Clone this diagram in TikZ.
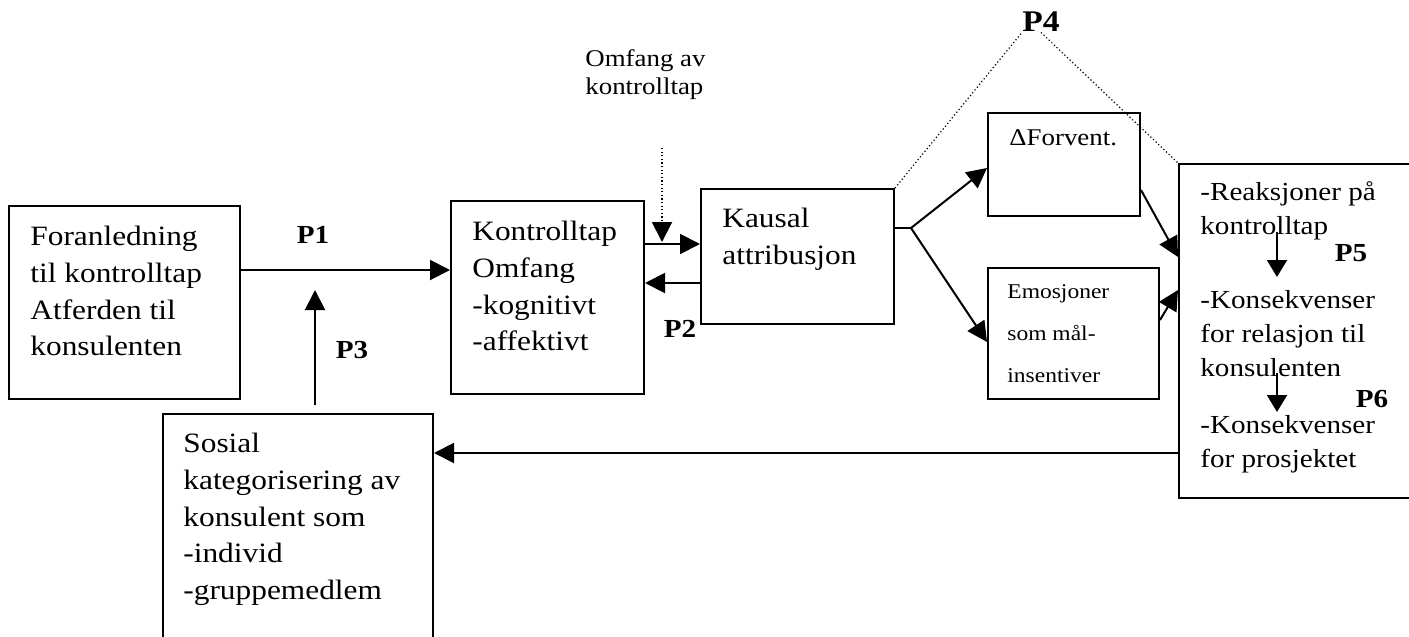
\documentclass[tikz,border=0pt]{standalone}
\usepackage{fontspec}
\setmainfont{Liberation Serif}[FakeStretch=1.12]
\usetikzlibrary{arrows.meta,calc}

\begin{document}
\begin{tikzpicture}[
  x=0.5pt,y=-0.5pt,
  boks/.style={rectangle,draw,line width=1pt,inner sep=0pt,anchor=north west},
  tekst/.style={inner sep=0pt,anchor=north west,align=left,
    font=\fontsize{14}{18.35}\selectfont},
  ptekst/.style={inner sep=0pt,font=\fontsize{13}{15}\selectfont\bfseries},
  arrow/.style={-{Triangle[length=10pt,width=10pt]},line width=1pt},
  smallarrow/.style={-{Triangle[length=8.5pt,width=10pt]},line width=1pt},
  prikk/.style={line width=0.6pt,dash pattern=on 0.6pt off 1.2pt}
]
\useasboundingbox (0,0) rectangle (1409,637);
\clip (0,0) rectangle (1409,637);

% ── Bokser ───────────────────────────────────────────────────────────────────
\node[boks,minimum width=115.5pt,minimum height=96.5pt] (foran)    at (8,205)    {};
\node[boks,minimum width=96.5pt, minimum height=96.5pt] (kontroll) at (450,200)  {};
\node[boks,minimum width=96.5pt, minimum height=67.5pt] (kausal)   at (700,188)  {};
\node[boks,minimum width=76pt,   minimum height=51.5pt] (forvent)  at (987,112)  {};
\node[boks,minimum width=85.5pt, minimum height=65.5pt] (emosjon)  at (987,267)  {};
\node[boks,minimum width=125pt,  minimum height=167pt]  (reaksjon) at (1178,163) {};
\node[boks,minimum width=135pt,  minimum height=125pt]  (sosial)   at (162,413)  {};

% ── Tekst i boksene ──────────────────────────────────────────────────────────
\node[tekst] (forantxt) at (30,226)
  {Foranledning\\til kontrolltap\\Atferden til\\konsulenten};
\node[tekst] (kontrolltxt) at (472,221)
  {Kontrolltap\\Omfang\\-kognitivt\\-affektivt};
\node[tekst] (kausaltxt) at (722,208) {Kausal\\attribusjon};
\node[tekst,font=\fontsize{12}{14}\selectfont] (forventtxt) at (1009,129) {ΔForvent.};
\node[tekst,font=\fontsize{10.5}{21}\selectfont] (emosjontxt) at (1007,284)
  {Emosjoner\\som mål-\\insentiver};
\node[tekst,font=\fontsize{13}{17}\selectfont] (reak1) at (1200,181)
  {-Reaksjoner på\\kontrolltap};
\node[tekst,font=\fontsize{13}{17}\selectfont] (reak2) at (1200,290)
  {-Konsekvenser\\for relasjon til\\konsulenten};
\node[tekst,font=\fontsize{13}{17}\selectfont] (reak3) at (1200,415)
  {-Konsekvenser\\for prosjektet};
\node[tekst] (sosialtxt) at (183,433)
  {Sosial\\kategorisering av\\konsulent som\\-individ\\-gruppemedlem};
\node[tekst,font=\fontsize{12}{14}\selectfont] (omfang) at (585,49)
  {Omfang av\\kontrolltap};

% ── P-etiketter ──────────────────────────────────────────────────────────────
\node[ptekst] (p1) at (313,235) {P1};
\node[ptekst] (p2) at (680,329) {P2};
\node[ptekst] (p3) at (352,350) {P3};
\node[ptekst,font=\fontsize{15}{17}\selectfont\bfseries,anchor=base] (p4) at (1041,32) {P4};
\node[ptekst] (p5) at (1351,253) {P5};
\node[ptekst] (p6) at (1372,399) {P6};

% ── Hjelpepunkter (høyder og x for pilene) ───────────────────────────────────
\coordinate (yP1)    at (0,270);
\coordinate (yBC)    at (0,244);
\coordinate (yCB)    at (0,283);
\coordinate (gaffel) at (911,228);
\coordinate (yD)     at (0,168);
\coordinate (yE)     at (0,342);
\coordinate (yDut)   at (0,190);
\coordinate (yDinn)  at (0,257);
\coordinate (yEut)   at (0,320);
\coordinate (yEinn)  at (0,290);
\coordinate (ySos)   at (0,453);
\coordinate (xP3)    at (315,290);
\coordinate (omfpil) at (662,148);
\coordinate (p5fra)  at (1277,232);
\coordinate (p5til)  at (1277,277);
\coordinate (p6fra)  at (1277,373);
\coordinate (p6til)  at (1277,412);

% ── Piler ────────────────────────────────────────────────────────────────────
\draw[arrow](foran.east |- yP1)--(kontroll.west |- yP1);
\draw[arrow](kontroll.east |- yBC)--(kausal.west |- yBC);
\draw[arrow](kausal.west |- yCB)--(kontroll.east |- yCB);
\draw[arrow,prikk,line width=1pt](omfpil)--([yshift=1pt]omfpil |- yBC);
\draw[line width=1pt](kausal.east |- gaffel)--(gaffel);
\draw[arrow](gaffel)--(forvent.west |- yD);
\draw[arrow](gaffel)--(emosjon.west |- yE);
\draw[arrow](forvent.east |- yDut)--(reaksjon.west |- yDinn);
\draw[arrow](emosjon.east |- yEut)--(reaksjon.west |- yEinn);
\draw[arrow](reaksjon.west |- ySos)--(sosial.east |- ySos);
\draw[arrow,shorten <=4pt](sosial.north -| xP3)--(xP3);
\draw[smallarrow](p5fra)--(p5til);
\draw[smallarrow](p6fra)--(p6til);

% ── Prikkete linjer til P4 ───────────────────────────────────────────────────
\draw[prikk](kausal.north east)--(p4.south west);
\draw[prikk](p4.south)--(reaksjon.north west);
\end{tikzpicture}
\end{document}
